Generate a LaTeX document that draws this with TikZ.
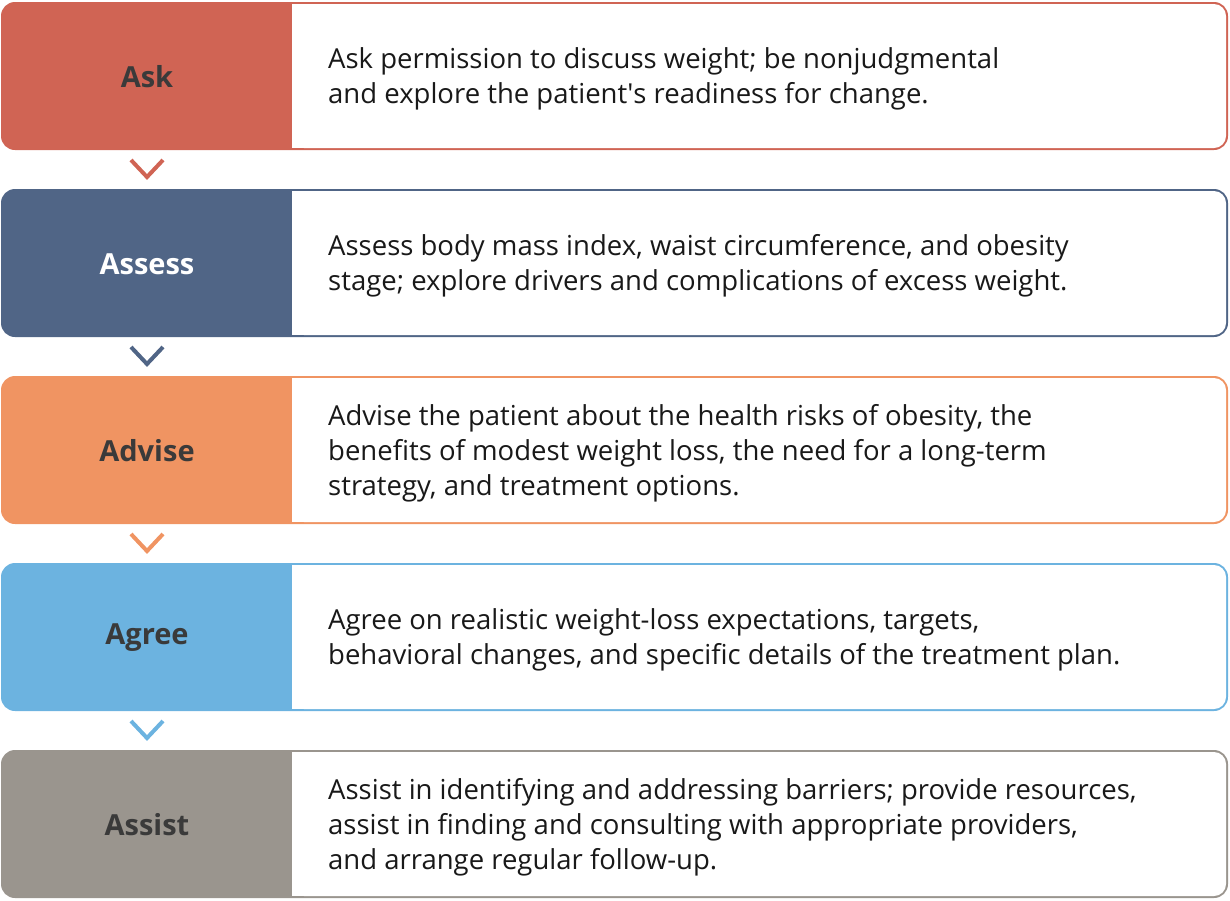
\documentclass[tikz,border=0pt]{standalone}
\usepackage{fontspec}
\setmainfont{Open Sans}
\definecolor{cAsk}{HTML}{D06454}
\definecolor{cAssess}{HTML}{506586}
\definecolor{cAdvise}{HTML}{F09462}
\definecolor{cAgree}{HTML}{6CB3E0}
\definecolor{cAssist}{HTML}{9A958E}
\definecolor{dtext}{HTML}{3A3A3A}
\begin{document}
\begin{tikzpicture}[x=1pt,y=-1pt,
  body/.style={font=\fontsize{27.5}{35}\selectfont, text=black!90, anchor=west, align=left, inner sep=0},
  lab/.style={font=\fontsize{29}{32}\selectfont\bfseries, inner sep=0},
  chev/.style={line width=4pt}]
\useasboundingbox (0,0) rectangle (1230,900);
\newcommand{\row}[6]{% name, color, top, label, labelcolor, text
  \fill[#2,rounded corners=14pt] (1,#3) rectangle (1228,#3+148);
  \fill[white,rounded corners=12pt] (292,#3+2) rectangle (1226,#3+146);
  \fill[white] (292,#3+2) rectangle (310,#3+146);
  \node[lab,text=#5] (#1l) at (147,#3+75) {#4};
  \node[body] (#1t) at (328,#3+77) {#6};
}
\row{ask}{cAsk}{2}{Ask}{dtext}{Ask permission to discuss weight; be nonjudgmental\\and explore the patient\textquotesingle s readiness for change.}
\row{assess}{cAssess}{189}{Assess}{white}{Assess body mass index, waist circumference, and obesity\\stage; explore drivers and complications of excess weight.}
\row{advise}{cAdvise}{376}{Advise}{dtext}{Advise the patient about the health risks of obesity, the\\benefits of modest weight loss, the need for a long-term\\strategy, and treatment options.}
\row{agree}{cAgree}{563}{Agree}{dtext}{Agree on realistic weight-loss expectations, targets,\\behavioral changes, and specific details of the treatment plan.}
\row{assist}{cAssist}{750}{Assist}{dtext}{Assist in identifying and addressing barriers; provide resources,\\assist in finding and consulting with appropriate providers,\\and arrange regular follow-up.}
\foreach \c/\y in {cAsk/160,cAssess/347,cAdvise/534,cAgree/721}{
  \coordinate (a\y) at (131,\y); \coordinate (b\y) at (147,\y+17); \coordinate (c\y) at (163,\y);
  \draw[chev,\c] (a\y) -- (b\y) -- (c\y);
}
\end{tikzpicture}
\end{document}
